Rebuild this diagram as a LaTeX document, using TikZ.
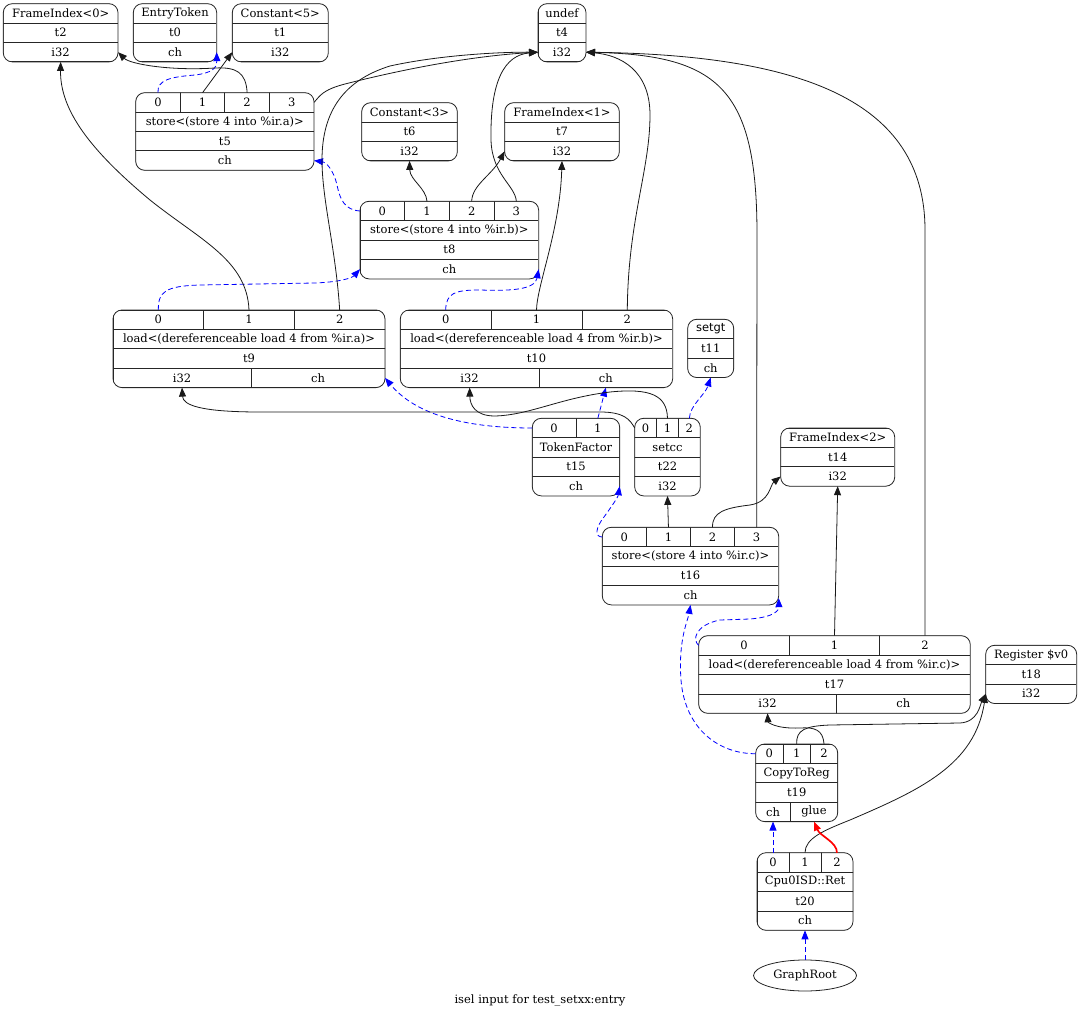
\documentclass[tikz,border=0pt]{standalone}
\usepackage{fontspec}
\setmainfont{DejaVu Serif}
\setsansfont{DejaVu Sans}
\usetikzlibrary{arrows.meta,shapes.geometric}

% record helpers (1 unit = 1pt, y grows downward)
\newcommand\rowh{19.4}
\newcommand\fieldc[5]{\node[fld, minimum width={#4-#3}] (#1) at ({(#3+#4)/2},{\yt+\rowh*#2+\rowh/2}) {#5};}
\newcommand\fieldr[3]{\fieldc{#1}{#2}{\xl}{\xr}{#3}}
\newcommand\portrow[2]{%
  \foreach \i in {1,...,#2}{%
    \pgfmathsetmacro\xa{\xl+(\xr-\xl)*(\i-1)/#2}%
    \pgfmathsetmacro\xb{\xl+(\xr-\xl)*\i/#2}%
    \pgfmathtruncatemacro\k{\i-1}%
    \fieldc{#1\k}{0}{\xa}{\xb}{\k}}}
\newcommand\drawrec[5]{%
  \def\xl{#1}\def\yt{#2}\def\xr{#3}%
  \begin{scope}
    \clip[rounded corners=9pt] (#1,#2) rectangle (#3,{#2+#4*\rowh});
    #5
  \end{scope}
  \draw[recline] (#1,#2) rectangle (#3,{#2+#4*\rowh});}

\begin{document}
\begin{tikzpicture}[x=1pt, y=-1pt,
  txt/.style={font=\fontsize{11.5}{13.8}\selectfont},
  fld/.style={draw=black!85, line width=0.8pt, inner sep=0pt, outer sep=0pt,
              minimum height=19.4pt, txt},
  recline/.style={draw=black!85, line width=0.8pt, rounded corners=9pt},
  edge/.style={-{Triangle[length=9pt,width=7pt]}, line width=0.8pt, black!90},
  chn/.style={edge, blue, dash pattern=on 5pt off 3pt},
  glu/.style={edge, red, line width=1.7pt},
]
\useasboundingbox (0,0) rectangle (1080,1014);

% top row
\drawrec{3.3}{3.7}{118}{3}{\fieldr{fi0a}{0}{FrameIndex<0>}\fieldr{fi0b}{1}{t2}\fieldr{fi0c}{2}{i32}}
\drawrec{133.3}{3.7}{216.7}{3}{\fieldr{eta}{0}{EntryToken}\fieldr{etb}{1}{t0}\fieldr{etc}{2}{ch}}
\drawrec{232.3}{3.7}{328.3}{3}{\fieldr{c5a}{0}{Constant<5>}\fieldr{c5b}{1}{t1}\fieldr{c5c}{2}{i32}}
\drawrec{538}{3.7}{586}{3}{\fieldr{uda}{0}{undef}\fieldr{udb}{1}{t4}\fieldr{udc}{2}{i32}}

% stores a, b and their operands
\drawrec{135.7}{92.7}{314}{4}{\portrow{t5p}{4}
  \fieldr{t5a}{1}{store<(store 4 into \%ir.a)>}\fieldr{t5b}{2}{t5}\fieldr{t5c}{3}{ch}}
\drawrec{361.7}{102.7}{457.3}{3}{\fieldr{c3a}{0}{Constant<3>}\fieldr{c3b}{1}{t6}\fieldr{c3c}{2}{i32}}
\drawrec{504.7}{102.7}{619.3}{3}{\fieldr{fi1a}{0}{FrameIndex<1>}\fieldr{fi1b}{1}{t7}\fieldr{fi1c}{2}{i32}}
\drawrec{360}{201.3}{538.7}{4}{\portrow{t8p}{4}
  \fieldr{t8a}{1}{store<(store 4 into \%ir.b)>}\fieldr{t8b}{2}{t8}\fieldr{t8c}{3}{ch}}

% loads and compare
\drawrec{113}{310}{385}{4}{\portrow{t9p}{3}
  \fieldr{t9a}{1}{load<(dereferenceable load 4 from \%ir.a)>}\fieldr{t9b}{2}{t9}
  \fieldc{t9c0}{3}{\xl}{251}{i32}\fieldc{t9c1}{3}{251}{\xr}{ch}}
\drawrec{400.3}{310}{672.7}{4}{\portrow{t10p}{3}
  \fieldr{t10a}{1}{load<(dereferenceable load 4 from \%ir.b)>}\fieldr{t10b}{2}{t10}
  \fieldc{t10c0}{3}{\xl}{539}{i32}\fieldc{t10c1}{3}{539}{\xr}{ch}}
\drawrec{687.7}{319.3}{733.7}{3}{\fieldr{sga}{0}{\sffamily setgt}\fieldr{sgb}{1}{t11}\fieldr{sgc}{2}{ch}}
\drawrec{532.3}{418.3}{619.7}{4}{\portrow{t15p}{2}
  \fieldr{t15a}{1}{TokenFactor}\fieldr{t15b}{2}{t15}\fieldr{t15c}{3}{ch}}
\drawrec{634.7}{418.3}{700.3}{4}{\portrow{t22p}{3}
  \fieldr{t22a}{1}{setcc}\fieldr{t22b}{2}{t22}\fieldr{t22c}{3}{i32}}
\drawrec{780.7}{428}{894.7}{3}{\fieldr{fi2a}{0}{FrameIndex<2>}\fieldr{fi2b}{1}{t14}\fieldr{fi2c}{2}{i32}}

% store c, load c, return
\drawrec{602.3}{527.3}{778.7}{4}{\portrow{t16p}{4}
  \fieldr{t16a}{1}{store<(store 4 into \%ir.c)>}\fieldr{t16b}{2}{t16}\fieldr{t16c}{3}{ch}}
\drawrec{698.7}{635.7}{970.3}{4}{\portrow{t17p}{3}
  \fieldr{t17a}{1}{load<(dereferenceable load 4 from \%ir.c)>}\fieldr{t17b}{2}{t17}
  \fieldc{t17c0}{3}{\xl}{836.3}{i32}\fieldc{t17c1}{3}{836.3}{\xr}{ch}}
\drawrec{985.7}{645.3}{1076.7}{3}{\fieldr{rega}{0}{Register \$v0}\fieldr{regb}{1}{t18}\fieldr{regc}{2}{i32}}
\drawrec{755.7}{744}{837.7}{4}{\portrow{t19p}{3}
  \fieldr{t19a}{1}{CopyToReg}\fieldr{t19b}{2}{t19}
  \fieldc{t19c0}{3}{\xl}{790.3}{ch}\fieldc{t19c1}{3}{790.3}{\xr}{glue}}
\drawrec{757}{852.7}{853}{4}{\portrow{t20p}{3}
  \fieldr{t20a}{1}{Cpu0ISD::Ret}\fieldr{t20b}{2}{t20}\fieldr{t20c}{3}{ch}}

\node[draw=black!85, line width=0.8pt, ellipse, minimum width=103pt, minimum height=31pt,
      inner sep=0pt, txt] (gr) at (805,975.5) {GraphRoot};
\node[txt] (cap) at (540,1000) {isel input for test\_setxx:entry};

% operands of t5
\draw[chn] (t5p0.north) .. controls (157,80) and (170,77) .. (195,75) .. controls (212,73) and (217,68) .. (etc.east);
\draw[edge] (t5p1.north) -- (c5c.west);
\draw[edge] (t5p2.north) .. controls (246,72) and (236,67) .. (215,68) .. controls (170,71) and (130,64) .. (fi0c.east);
\draw[edge] (t5p3.east) .. controls (320,96) and (322,90) .. (345,84) .. controls (400,70) and (470,56) .. (udc.west);

% operands of t8
\draw[chn] (t8p0.west) .. controls (345,210) and (340,200) .. (337,185) .. controls (333,168) and (325,162) .. (t5c.east);
\draw[edge] (t8p1.north) .. controls (426,188) and (410,180) .. (c3c.south);
\draw[edge] (t8p2.north) .. controls (472,185) and (492,175) .. (fi1c.west);
\draw[edge] (t8p3.north) .. controls (515,185) and (492,175) .. (491,140) .. controls (490,80) and (505,55) .. (udc.west);

% operands of t9, t10
\draw[chn] (t9p0.north) .. controls (158,292) and (165,286) .. (200,285) -- (315,283) .. controls (340,282) and (352,278) .. (t8c.west);
\draw[edge] (t9p1.north) .. controls (247,260) and (200,240) .. (150,200) .. controls (90,150) and (60,110) .. (fi0c.south);
\draw[edge] (t9p2.north) .. controls (336,250) and (322,200) .. (322,160) .. controls (322,110) and (345,80) .. (390,66) .. controls (440,55) and (500,52) .. (udc.west);
\draw[chn] (t10p0.north) .. controls (446,293) and (455,290) .. (480,290) .. controls (510,291) and (535,290) .. (t8c.east);
\draw[edge] (t10p1.north) .. controls (537,285) and (560,230) .. (fi1c.south);
\draw[edge] (t10p2.north) .. controls (628,220) and (650,170) .. (650,115) .. controls (650,70) and (620,55) .. (udc.east);

% TokenFactor and setcc
\draw[chn] (t15p0.west) .. controls (480,428) and (420,420) .. (t9c1.east);
\draw[chn] (t15p1.north) -- (t10c1.south);
\draw[edge] (t22p0.west) .. controls (630,420) and (625,412) .. (600,412) -- (260,412) .. controls (200,412) and (183,405) .. (t9c0.south);
\draw[edge] (t22p1.north) .. controls (667,395) and (650,388) .. (610,392) .. controls (560,398) and (530,415) .. (495,416) .. controls (475,416) and (470,405) .. (t10c0.south);
\draw[chn] (t22p2.north) .. controls (690,405) and (705,395) .. (sgc.south);

% operands of t16, t17
\draw[chn] (t16p0.west) .. controls (594,537) and (596,527) .. (604,517) .. controls (612,506) and (618,497) .. (t15c.east);
\draw[edge] (t16p1.north) -- (t22c.south);
\draw[edge] (t16p2.north) .. controls (712,512) and (725,508) .. (750,505) .. controls (770,502) and (770,485) .. (fi2c.west);
\draw[edge] (t16p3.north) -- (757,235) .. controls (757,90) and (720,55) .. (udc.east);
\draw[chn] (t17p0.west) .. controls (692,640) and (695,625) .. (720,620) -- (750,619) .. controls (775,617) and (779,610) .. ([yshift=-3pt]t16c.east);
\draw[edge] (t17p1.north) -- (fi2c.south);
\draw[edge] (t17p2.north) -- (925,230) .. controls (925,100) and (800,55) .. (udc.east);

% CopyToReg and return
\draw[chn] (t19p0.west) .. controls (720,754) and (685,730) .. (681,680) .. controls (678,640) and (688,620) .. (t16c.south);
\draw[edge] (t19p1.north) .. controls (796,730) and (805,726) .. (830,725) -- (960,723) .. controls (978,722) and (980,705) .. (regc.west);
\draw[edge] (t19p2.north) .. controls (823,730) and (815,727) .. (800,728) .. controls (775,729) and (768,722) .. (t17c0.south);
\draw[chn] (t20p0.north) -- (t19c0.south);
\draw[edge] (t20p1.north) .. controls (805,838) and (825,830) .. (850,820) .. controls (920,790) and (975,765) .. (regc.west);
\draw[glu] (t20p2.north) .. controls (837,842) and (820,836) .. (t19c1.south);
\draw[chn] (gr.north) -- (t20c.south);
\end{tikzpicture}
\end{document}
